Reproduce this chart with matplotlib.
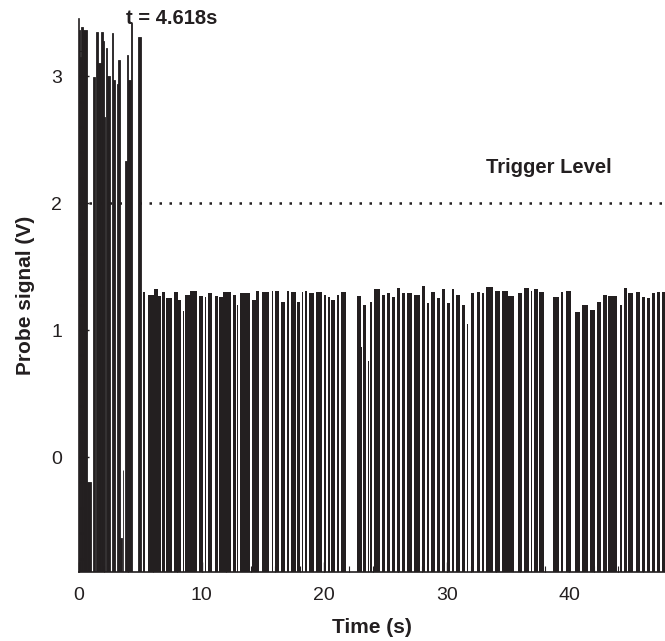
import numpy as np
import matplotlib.pyplot as plt

plt.rcParams['font.family'] = ['Liberation Sans', 'DejaVu Sans']

# burst before the trigger: probe signal jumps well above the trigger level
burst_start = [0.00, 0.05, 0.20, 0.33, 0.63, 1.17, 1.39, 1.51, 1.83, 1.92, 2.00, 2.20,
               2.28, 2.67, 2.81, 3.07, 3.22, 3.34, 3.55, 3.75, 3.89, 4.02, 4.28, 4.83]
burst_end = [0.05, 0.16, 0.29, 0.63, 0.95, 1.30, 1.51, 1.83, 1.92, 2.00, 2.12, 2.28,
             2.53, 2.81, 2.93, 3.22, 3.34, 3.48, 3.59, 3.89, 4.02, 4.28, 4.36, 5.03]
burst_top = [3.36, 3.15, 3.39, 3.36, -0.20, 2.99, 3.35, 3.10, 3.35, 3.28, 2.68, 3.22,
             3.00, 3.34, 2.97, 2.94, 3.13, -0.64, -0.10, 2.33, 3.17, 2.97, 3.42, 3.31]

# after the trigger the pulses settle around 1.3 V
pulse_start = [5.19, 5.62, 6.11, 6.44, 6.80, 7.09, 7.74, 8.07, 8.48, 8.64, 9.05, 9.78,
               10.27, 10.51, 11.00, 11.08, 11.45, 11.74, 12.55, 12.88, 13.12, 14.10, 14.43, 14.91,
               15.73, 15.97, 16.46, 16.99, 17.32, 17.77, 18.22, 18.42, 18.74, 19.32, 19.97, 20.29,
               20.54, 21.03, 21.37, 22.00, 22.17, 22.70, 23.02, 23.15, 23.59, 23.72, 24.04, 24.74,
               25.14, 25.55, 25.92, 26.37, 26.77, 27.30, 27.99, 28.40, 28.69, 29.22, 29.63, 30.03,
               30.44, 30.73, 31.26, 31.66, 31.95, 32.49, 32.87, 33.23, 33.90, 34.50, 35.00, 35.80,
               36.27, 36.84, 37.08, 37.50, 38.66, 39.34, 39.69, 40.42, 41.04, 41.65, 42.26, 42.73,
               43.19, 44.09, 44.42, 44.82, 45.40, 45.93, 46.33, 46.74, 47.15, 47.55]
pulse_end = [5.38, 6.11, 6.44, 6.68, 7.01, 7.58, 8.07, 8.31, 8.56, 9.05, 9.62, 10.11,
             10.43, 10.84, 11.08, 11.33, 11.74, 12.39, 12.80, 13.00, 13.94, 14.43, 14.75, 15.49,
             15.85, 16.32, 16.87, 17.20, 17.77, 18.09, 18.30, 18.62, 19.18, 19.85, 20.17, 20.54,
             20.89, 21.22, 21.81, 22.06, 22.23, 23.02, 23.15, 23.43, 23.68, 23.92, 24.61, 25.02,
             25.43, 25.78, 26.24, 26.65, 27.18, 27.87, 28.28, 28.55, 29.10, 29.50, 29.91, 30.32,
             30.59, 31.13, 31.54, 31.78, 32.27, 32.76, 33.09, 33.77, 34.39, 35.00, 35.48, 36.15,
             36.70, 36.96, 37.50, 37.98, 39.20, 39.55, 40.15, 40.91, 41.51, 42.14, 42.60, 43.07,
             43.95, 44.29, 44.70, 45.26, 45.80, 46.21, 46.62, 47.02, 47.43, 48.00]
pulse_top = [1.30, 1.28, 1.32, 1.27, 1.30, 1.25, 1.30, 1.24, 1.15, 1.28, 1.31, 1.27,
             1.26, 1.29, 1.33, 1.27, 1.26, 1.30, 1.28, 1.20, 1.29, 1.24, 1.31, 1.30,
             1.31, 1.31, 1.22, 1.31, 1.30, 1.22, 1.30, 1.31, 1.29, 1.30, 1.28, 1.26,
             1.24, 1.28, 1.30, 1.28, 1.26, 1.27, 0.87, 1.20, 0.76, 1.22, 1.32, 1.28,
             1.29, 1.26, 1.33, 1.29, 1.29, 1.28, 1.35, 1.21, 1.30, 1.25, 1.32, 1.21,
             1.32, 1.28, 1.20, 1.05, 1.29, 1.30, 1.29, 1.34, 1.31, 1.31, 1.27, 1.29,
             1.33, 1.31, 1.32, 1.30, 1.26, 1.30, 1.31, 1.14, 1.20, 1.16, 1.22, 1.28,
             1.27, 1.20, 1.33, 1.29, 1.30, 1.26, 1.25, 1.29, 1.30, 1.30]

trigger_level = 2.0
yticks = [0, 1, 2, 3]
xticks = [0, 10, 20, 30, 40]

ink = '#231f20'
low = -1.5  # signal floor, below the visible range

fig = plt.figure(figsize=(6.65, 6.41), dpi=100)
ax = fig.add_axes([79 / 665, 69 / 641, 586 / 665, 553 / 641])

# burst: thin spikes, keep them fully dark with a hairline edge
b0 = np.array(burst_start)
b1 = np.array(burst_end)
bt = np.array(burst_top)
ax.bar(b0, bt - low, width=b1 - b0, bottom=low, align='edge',
       color=ink, edgecolor=ink, linewidth=0.6)

# settled pulses: small trim so the thin low gaps between them stay visible
p0 = np.array(pulse_start)
p1 = np.array(pulse_end)
pt = np.array(pulse_top)
width = np.maximum(p1 - p0 - 0.03, 0.04)
ax.bar(p0, pt - low, width=width, bottom=low, align='edge',
       color=ink, linewidth=0)

ax.axhline(trigger_level, color=ink, linestyle=(0, (1, 3)), linewidth=1.8)
ax.text(38.3, 2.28, 'Trigger Level', ha='center', va='center',
        fontsize=14.5, fontweight='bold', color=ink)
ax.text(7.6, 3.455, 't = 4.618s', ha='center', va='center',
        fontsize=14.5, fontweight='bold', color=ink, clip_on=False)

ax.set_xlim(0, 47.8)
ax.set_ylim(-0.905, 3.45)
ax.set_xticks(xticks)
ax.set_yticks(yticks)
ax.set_xticks(np.arange(0, 48, 2), minor=True)
ax.set_yticks(np.arange(-0.8, 3.4, 0.2), minor=True)
ax.tick_params(which='both', direction='in', colors=ink, labelsize=14)
ax.tick_params(which='major', length=7, width=1)
ax.tick_params(which='minor', length=4, width=0.8)
ax.tick_params(axis='x', pad=11)
ax.tick_params(axis='y', pad=12)

for side in ['top', 'right']:
    ax.spines[side].set_visible(False)
for side in ['left', 'bottom']:
    ax.spines[side].set_color(ink)
    ax.spines[side].set_linewidth(1.2)

ax.set_xlabel('Time (s)', fontsize=15, fontweight='bold', color=ink, labelpad=10)
ax.set_ylabel('Probe signal (V)', fontsize=15, fontweight='bold', color=ink, labelpad=12)

fig.savefig('out.png', dpi=100)
